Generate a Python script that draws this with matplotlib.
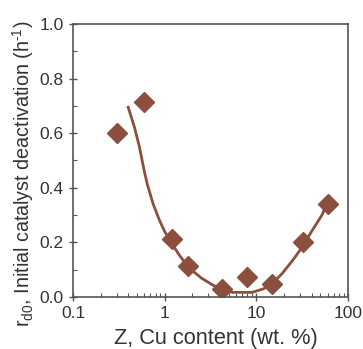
import matplotlib
matplotlib.use("Agg")
import matplotlib.pyplot as plt
from matplotlib.ticker import LogLocator, NullFormatter, MultipleLocator

plt.rcParams["font.family"] = ["Liberation Sans", "DejaVu Sans"]
plt.rcParams["mathtext.fontset"] = "custom"
plt.rcParams["mathtext.rm"] = "Liberation Sans"
plt.rcParams["mathtext.it"] = "Liberation Sans:italic"

# measured points
cu_content = [0.3, 0.6, 1.2, 1.8, 4.2, 8.0, 15.0, 32.0, 60.0]
rd0 = [0.60, 0.714, 0.212, 0.114, 0.030, 0.072, 0.047, 0.200, 0.340]

# model curve
fit_x = [0.4, 0.47, 0.53, 0.6, 0.65, 0.75, 0.88, 1.0, 1.13, 1.4, 1.8, 2.5, 3.3, 4.2,
         5.5, 9.0, 12.0, 15.0, 19.0, 25.0, 32.0, 40.0, 52.0, 60.0]
fit_y = [0.695, 0.62, 0.55, 0.46, 0.41, 0.34, 0.28, 0.24, 0.21, 0.16, 0.11, 0.07, 0.045,
         0.028, 0.017, 0.017, 0.03, 0.05, 0.085, 0.135, 0.185, 0.24, 0.30, 0.35]

color = "#8C4F3E"

fig = plt.figure(figsize=(3.63, 3.49), dpi=100)
ax = fig.add_axes([73 / 363, 52 / 349, 275 / 363, 273 / 349])

ax.plot(fit_x, fit_y, color=color, linewidth=2)
ax.plot(cu_content, rd0, linestyle="none", marker="D", markersize=10,
        color=color, markeredgecolor=color)

ax.set_xscale("log")
ax.set_xlim(0.1, 100)
ax.set_ylim(0, 1.0)
ax.xaxis.set_minor_locator(LogLocator(base=10, subs=range(2, 10), numticks=10))
ax.xaxis.set_minor_formatter(NullFormatter())
ax.set_xticks([0.1, 1, 10, 100])
ax.set_xticklabels(["0.1", "1", "10", "100"])
ax.yaxis.set_major_locator(MultipleLocator(0.2))
ax.yaxis.set_minor_locator(MultipleLocator(0.1))
ax.yaxis.set_major_formatter(lambda v, p: f"{v:.1f}")

for s in ax.spines.values():
    s.set_color("#555555")
    s.set_linewidth(1.2)
ax.tick_params(which="major", direction="inout", length=6, width=1, color="#555555",
               labelsize=12.5, labelcolor="#333333", top=False, right=False)
ax.tick_params(which="minor", direction="in", length=3, width=0.8, color="#555555",
               top=False, right=False)

ax.set_xlabel("Z, Cu content (wt. %)", fontsize=15.7, color="#333333")
ax.xaxis.set_label_coords(0.518, -0.115, transform=ax.transAxes)
ax.xaxis.label.set_va("top")
ax.set_ylabel(r"r$_{\mathrm{d0}}$, Initial catalyst deactivation (h$^{\text{-1}}$)",
              fontsize=14.2, color="#333333")
ax.yaxis.set_label_coords(-0.135, 0.45, transform=ax.transAxes)

fig.savefig("out.png", dpi=100)
